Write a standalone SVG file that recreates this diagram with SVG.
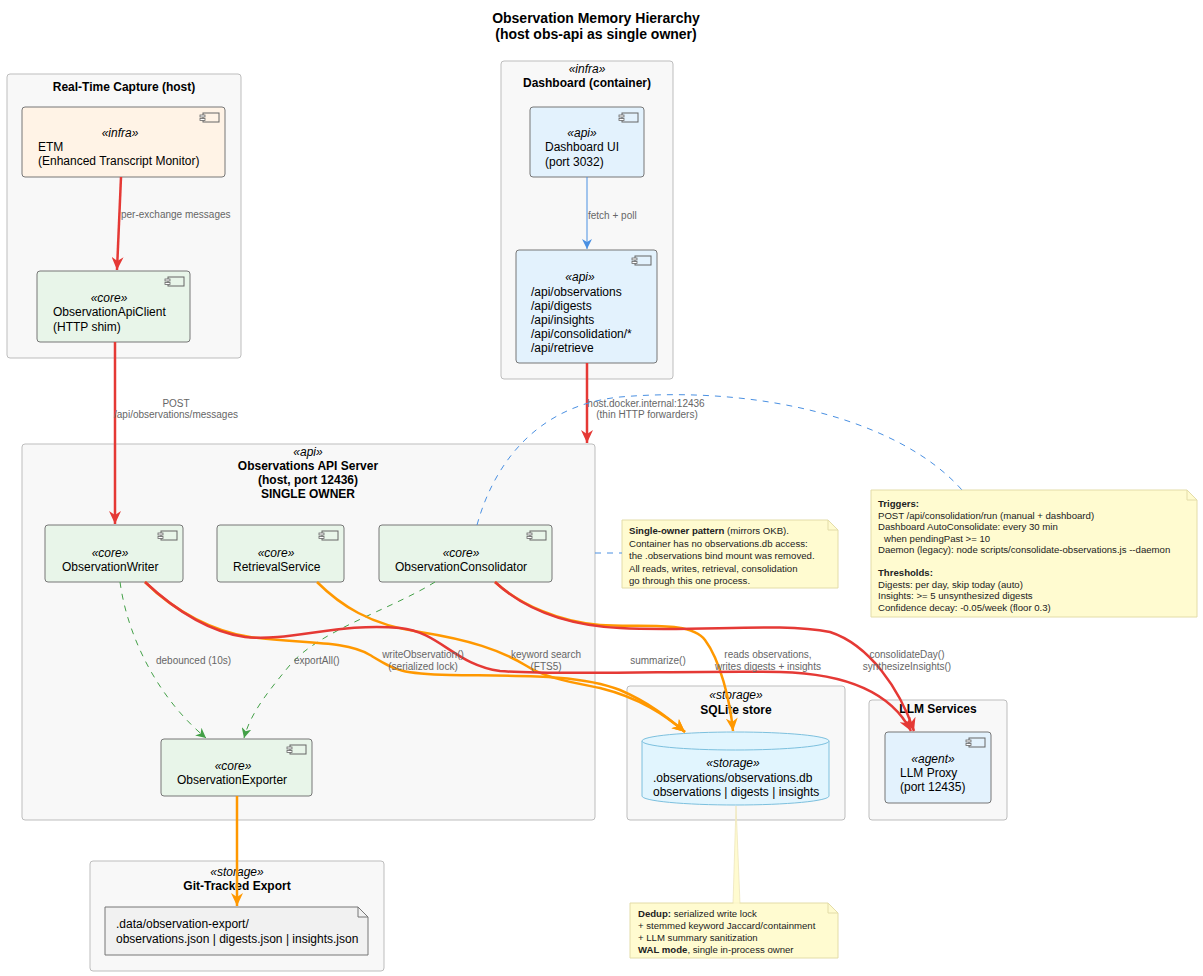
<svg xmlns="http://www.w3.org/2000/svg" width="1203" height="976" viewBox="0 0 1203 976">
<defs>
<style>
text{font-family:"Liberation Sans",Arial,sans-serif;fill:#000}
.title{font-size:14px;font-weight:bold;text-anchor:middle}
.ct{font-size:12px;font-weight:bold;text-anchor:middle}
.cs{font-size:12px;font-style:italic;text-anchor:middle}
.st{font-size:12px;font-style:italic;text-anchor:middle}
.nt{font-size:12px}
.lbl{font-size:10px;fill:#666}
.lblc{font-size:10px;fill:#666;text-anchor:middle}
.note{font-size:9.6px;fill:#222}
.b{font-weight:bold}
.cluster{fill:#F8F8F8;stroke:#BDBDBD;stroke-width:1}
.green{fill:#E8F5E9;stroke:#777;stroke-width:1}
.blue{fill:#E3F2FD;stroke:#777;stroke-width:1}
.orange{fill:#FFF3E6;stroke:#777;stroke-width:1}
.icon{fill:none;stroke:#666;stroke-width:1}
.notebox{fill:#FFFBD0;stroke:#E3DCA8;stroke-width:1}
.red{fill:none;stroke:#E53935;stroke-width:2.5}
.org{fill:none;stroke:#FF9800;stroke-width:2.5}
.bl{fill:none;stroke:#4A90E2;stroke-width:1}
.bld{fill:none;stroke:#4A90E2;stroke-width:1;stroke-dasharray:6,6}
.gd{fill:none;stroke:#43A047;stroke-width:1;stroke-dasharray:6,6}
</style>
<marker id="aRed" markerUnits="userSpaceOnUse" markerWidth="14" markerHeight="12" refX="13" refY="6" orient="auto"><path d="M0,0 L13,6 L0,12 L4,6 Z" fill="#E53935"/></marker>
<marker id="aOrg" markerUnits="userSpaceOnUse" markerWidth="14" markerHeight="12" refX="13" refY="6" orient="auto"><path d="M0,0 L13,6 L0,12 L4,6 Z" fill="#FF9800"/></marker>
<marker id="aBlue" markerUnits="userSpaceOnUse" markerWidth="11" markerHeight="10" refX="10" refY="5" orient="auto"><path d="M0,0 L10,5 L0,10 L3,5 Z" fill="#4A90E2"/></marker>
<marker id="aGreen" markerUnits="userSpaceOnUse" markerWidth="11" markerHeight="10" refX="10" refY="5" orient="auto"><path d="M0,0 L10,5 L0,10 L3,5 Z" fill="#43A047"/></marker>
<g id="compIcon"><rect x="0" y="0" width="16" height="9" class="icon"/><rect x="-3" y="2" width="5" height="2" fill="#fff" stroke="#666" stroke-width="0.8"/><rect x="-3" y="5.5" width="5" height="2" fill="#fff" stroke="#666" stroke-width="0.8"/></g>
</defs>
<rect width="1203" height="976" fill="#fff"/>
<text class="title" x="596" y="23">Observation Memory Hierarchy</text>
<text class="title" x="596" y="39">(host obs-api as single owner)</text>

<!-- clusters -->
<g id="cluster-realtime">
<rect class="cluster" x="7" y="74" width="234" height="284" rx="3"/>
<text class="ct" x="124" y="91">Real-Time Capture (host)</text>
</g>
<g id="cluster-dashboard">
<rect class="cluster" x="501" y="61" width="172" height="318" rx="3"/>
<text class="cs" x="587" y="73">«infra»</text>
<text class="ct" x="587" y="87">Dashboard (container)</text>
</g>
<g id="cluster-server">
<rect class="cluster" x="22" y="444" width="573" height="376" rx="3"/>
<text class="cs" x="308" y="456">«api»</text>
<text class="ct" x="308" y="470">Observations API Server</text>
<text class="ct" x="308" y="484">(host, port 12436)</text>
<text class="ct" x="308" y="498">SINGLE OWNER</text>
</g>
<g id="cluster-sqlite">
<rect class="cluster" x="627" y="686" width="218" height="134" rx="3"/>
<text class="cs" x="736" y="699">«storage»</text>
<text class="ct" x="736" y="714">SQLite store</text>
</g>
<g id="cluster-llm">
<rect class="cluster" x="869" y="700" width="138" height="120" rx="3"/>
<text class="ct" x="938" y="713">LLM Services</text>
</g>
<g id="cluster-git">
<rect class="cluster" x="90" y="861" width="294" height="110" rx="3"/>
<text class="cs" x="237" y="876">«storage»</text>
<text class="ct" x="237" y="890">Git-Tracked Export</text>
</g>

<!-- nodes -->
<g id="etm">
<rect class="orange" x="22" y="107" width="203" height="70" rx="3"/>
<use href="#compIcon" x="203" y="113"/>
<text class="st" x="120" y="137">«infra»</text>
<text class="nt" x="38" y="151">ETM</text>
<text class="nt" x="38" y="165">(Enhanced Transcript Monitor)</text>
</g>
<g id="obsApiClient">
<rect class="green" x="37" y="271" width="153" height="71" rx="3"/>
<use href="#compIcon" x="168" y="277"/>
<text class="st" x="109" y="302">«core»</text>
<text class="nt" x="53" y="316">ObservationApiClient</text>
<text class="nt" x="53" y="331">(HTTP shim)</text>
</g>
<g id="dashboardUI">
<rect class="blue" x="530" y="107" width="114" height="70" rx="3"/>
<use href="#compIcon" x="622" y="113"/>
<text class="st" x="582" y="137">«api»</text>
<text class="nt" x="545" y="151">Dashboard UI</text>
<text class="nt" x="545" y="166">(port 3032)</text>
</g>
<g id="dashboardApi">
<rect class="blue" x="516" y="250" width="141" height="113" rx="3"/>
<use href="#compIcon" x="635" y="256"/>
<text class="st" x="580" y="281">«api»</text>
<text class="nt" x="531" y="296">/api/observations</text>
<text class="nt" x="531" y="310">/api/digests</text>
<text class="nt" x="531" y="324">/api/insights</text>
<text class="nt" x="531" y="338">/api/consolidation/*</text>
<text class="nt" x="531" y="352">/api/retrieve</text>
</g>
<g id="observationWriter">
<rect class="green" x="45" y="525" width="138" height="57" rx="3"/>
<use href="#compIcon" x="161" y="531"/>
<text class="st" x="110" y="557">«core»</text>
<text class="nt" x="62" y="571">ObservationWriter</text>
</g>
<g id="retrievalService">
<rect class="green" x="217" y="525" width="127" height="57" rx="3"/>
<use href="#compIcon" x="322" y="531"/>
<text class="st" x="276" y="557">«core»</text>
<text class="nt" x="233" y="571">RetrievalService</text>
</g>
<g id="observationConsolidator">
<rect class="green" x="379" y="525" width="173" height="57" rx="3"/>
<use href="#compIcon" x="530" y="531"/>
<text class="st" x="461" y="557">«core»</text>
<text class="nt" x="395" y="571">ObservationConsolidator</text>
</g>
<g id="observationExporter">
<rect class="green" x="161" y="739" width="151" height="57" rx="3"/>
<use href="#compIcon" x="290" y="745"/>
<text class="st" x="233" y="770">«core»</text>
<text class="nt" x="177" y="784">ObservationExporter</text>
</g>
<g id="sqliteDb">
<path d="M642,741 V796 A93.5,9 0 0 0 829,796 V741" fill="#E1F5FE" stroke="#7CC0DE" stroke-width="1"/>
<ellipse cx="735.5" cy="741" rx="93.5" ry="9" fill="#E1F5FE" stroke="#7CC0DE" stroke-width="1"/>
<text class="st" x="733" y="767">«storage»</text>
<text class="nt" x="653" y="782">.observations/observations.db</text>
<text class="nt" x="653" y="796">observations | digests | insights</text>
</g>
<g id="llmProxy">
<rect class="blue" x="885" y="732" width="106" height="71" rx="3"/>
<use href="#compIcon" x="969" y="738"/>
<text class="st" x="933" y="763">«agent»</text>
<text class="nt" x="900" y="777">LLM Proxy</text>
<text class="nt" x="900" y="791">(port 12435)</text>
</g>
<g id="exportFiles">
<path d="M105,907 H358 L368,917 V955 H105 Z" fill="#F1F1F1" stroke="#777" stroke-width="1"/>
<path d="M358,907 V917 H368" fill="none" stroke="#777" stroke-width="1"/>
<text class="nt" x="116" y="928">.data/observation-export/</text>
<text class="nt" x="116" y="943">observations.json | digests.json | insights.json</text>
</g>

<!-- notes -->
<g id="noteSingleOwner">
<path class="notebox" d="M622,520 H828 L838,530 V588 H622 Z"/>
<path d="M828,520 V530 H838" fill="none" stroke="#E3DCA8"/>
<text class="note" x="629" y="534"><tspan class="b">Single-owner pattern</tspan> (mirrors OKB).</text>
<text class="note" x="629" y="546.5">Container has no observations.db access:</text>
<text class="note" x="629" y="559">the .observations bind mount was removed.</text>
<text class="note" x="629" y="571.5">All reads, writes, retrieval, consolidation</text>
<text class="note" x="629" y="584">go through this one process.</text>
</g>
<g id="noteTriggers">
<path class="notebox" d="M871,490 H1187 L1197,500 V617 H871 Z"/>
<path d="M1187,490 V500 H1197" fill="none" stroke="#E3DCA8"/>
<text class="note b" x="878" y="507">Triggers:</text>
<text class="note" x="878" y="518.5">POST /api/consolidation/run (manual + dashboard)</text>
<text class="note" x="878" y="530">Dashboard AutoConsolidate: every 30 min</text>
<text class="note" x="884" y="541.5">when pendingPast &gt;= 10</text>
<text class="note" x="878" y="553">Daemon (legacy): node scripts/consolidate-observations.js --daemon</text>
<text class="note b" x="878" y="576">Thresholds:</text>
<text class="note" x="878" y="587.5">Digests: per day, skip today (auto)</text>
<text class="note" x="878" y="599">Insights: &gt;= 5 unsynthesized digests</text>
<text class="note" x="878" y="610.5">Confidence decay: -0.05/week (floor 0.3)</text>
</g>
<g id="noteDedup">
<polygon points="736,806 733,904 740,904" fill="#FFFBD0" stroke="#EDE6BC" stroke-width="0.8"/>
<path class="notebox" d="M630,903 H828 L838,913 V958 H630 Z"/>
<path d="M828,903 V913 H838" fill="none" stroke="#E3DCA8"/>
<line x1="733.5" y1="903" x2="739.5" y2="903" stroke="#FFFBD0" stroke-width="1.5"/>
<text class="note" x="638" y="917"><tspan class="b">Dedup:</tspan> serialized write lock</text>
<text class="note" x="638" y="929">+ stemmed keyword Jaccard/containment</text>
<text class="note" x="638" y="941">+ LLM summary sanitization</text>
<text class="note" x="638" y="953"><tspan class="b">WAL mode</tspan>, single in-process owner</text>
</g>

<!-- connectors -->
<g id="connectors">
<path class="red" d="M121,177 L117,270" marker-end="url(#aRed)"/>
<text class="lbl" x="121" y="218">per-exchange messages</text>
<path class="red" d="M115,342 L115,524" marker-end="url(#aRed)"/>
<text class="lblc" x="176" y="407">POST</text>
<text class="lblc" x="176" y="418">/api/observations/messages</text>
<path class="bl" d="M587,177 L587,249" marker-end="url(#aBlue)"/>
<text class="lbl" x="588" y="219">fetch + poll</text>
<path class="red" d="M587,363 L587,443" marker-end="url(#aRed)"/>
<text class="lblc" x="646" y="407">host.docker.internal:12436</text>
<text class="lblc" x="647" y="418">(thin HTTP forwarders)</text>
<path class="bld" d="M477,525 C495,460 540,405 620,397 C760,385 900,420 962,490"/>
<path class="bld" d="M595,553 L622,553"/>

<path class="gd" d="M120,582 C128,640 160,700 206,738" marker-end="url(#aGreen)"/>
<text class="lbl" x="156" y="664">debounced (10s)</text>
<path class="gd" d="M435,582 C390,610 320,630 290,665 C265,695 250,715 244,738" marker-end="url(#aGreen)"/>
<text class="lbl" x="294" y="664">exportAll()</text>

<path class="org" d="M145,582 C175,612 215,632 250,637 C300,644 345,640 370,655 C395,670 400,674 450,675 C520,676 580,674 620,690 C650,703 668,718 685,732" marker-end="url(#aOrg)"/>
<path class="org" d="M317,582 C340,605 370,625 420,632 C470,640 500,650 525,665 C545,678 570,682 600,688 C640,698 665,715 685,732" marker-end="url(#aOrg)"/>
<path class="org" d="M495,582 C520,605 560,622 600,625 C640,628 690,620 705,640 C720,660 730,700 733,731" marker-end="url(#aOrg)"/>
<path class="org" d="M237,796 L237,906" marker-end="url(#aOrg)"/>

<path class="red" d="M145,582 C175,610 210,632 245,637 C290,642 340,622 400,628 C440,632 455,665 500,671 C560,676 700,670 780,672 C860,674 895,700 911,731" marker-end="url(#aRed)"/>
<path class="red" d="M495,582 C520,605 560,625 620,628 C700,632 780,622 830,632 C870,645 900,690 914,731" marker-end="url(#aRed)"/>

<text class="lblc" x="423" y="658">writeObservation()</text>
<text class="lblc" x="423" y="670">(serialized lock)</text>
<text class="lblc" x="546" y="658">keyword search</text>
<text class="lblc" x="546" y="670">(FTS5)</text>
<text class="lblc" x="658" y="664">summarize()</text>
<text class="lblc" x="768" y="658">reads observations,</text>
<text class="lblc" x="768" y="670">writes digests + insights</text>
<text class="lblc" x="907" y="658">consolidateDay()</text>
<text class="lblc" x="907" y="670">synthesizeInsights()</text>
</g>
</svg>
